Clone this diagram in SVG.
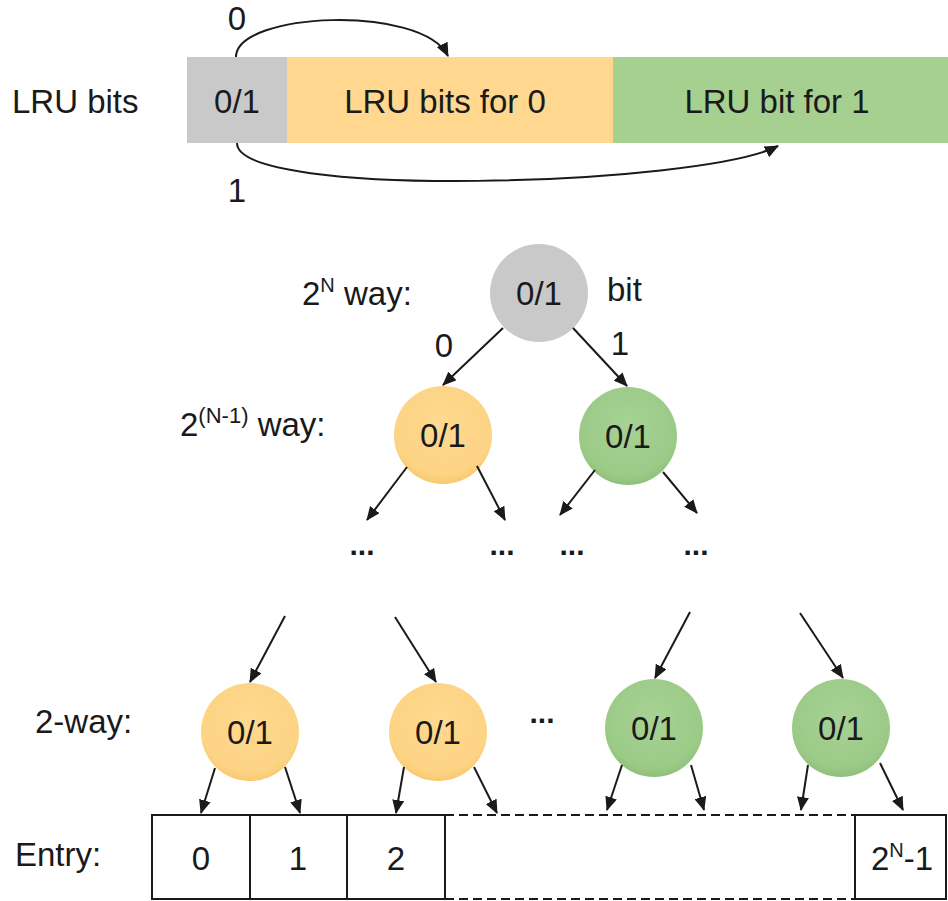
<svg xmlns="http://www.w3.org/2000/svg" width="948" height="901" viewBox="0 0 948 901">
<defs>
<style>
text{font-family:"Liberation Sans",Arial,sans-serif;fill:#1a1a1a;font-size:33px}
.c{text-anchor:middle}
.sup{font-size:20px}
.con{stroke:#1a1a1a;stroke-width:2;fill:none;marker-end:url(#ah)}
.gray{fill:#c9c9c9}
.or{fill:url(#gor)}
.gr{fill:url(#ggr)}
.box{fill:#fff;stroke:#1a1a1a;stroke-width:2}
.dots{font-size:30px;font-weight:bold;letter-spacing:0px}
</style>
<radialGradient id="gor" cx="0.5" cy="0.4" r="0.6"><stop offset="0" stop-color="#ffd98f"/><stop offset="0.85" stop-color="#fdd384"/><stop offset="1" stop-color="#f8c96e"/></radialGradient>
<radialGradient id="ggr" cx="0.5" cy="0.4" r="0.6"><stop offset="0" stop-color="#a7d294"/><stop offset="0.85" stop-color="#9bca87"/><stop offset="1" stop-color="#8fbf7b"/></radialGradient>
<marker id="ah" markerUnits="userSpaceOnUse" markerWidth="14" markerHeight="12" refX="13" refY="6" orient="auto"><path d="M0,0 L14,6 L0,12 z" fill="#1a1a1a"/></marker>
</defs>

<g id="lru-label"><text x="12" y="113">LRU bits</text></g>
<g id="bar-bit"><rect x="187" y="57" width="100" height="86" class="gray"/><text x="237" y="113" class="c">0/1</text></g>
<g id="bar-0"><rect x="287" y="57" width="326" height="86" fill="#ffd78e"/><text x="445" y="113" class="c">LRU bits for 0</text></g>
<g id="bar-1"><rect x="613" y="57" width="335" height="86" fill="#a6d08f"/><text x="777" y="113" class="c">LRU bit for 1</text></g>

<g id="lbl-top0"><text x="237" y="30" class="c">0</text></g>
<g id="lbl-top1"><text x="237" y="202" class="c">1</text></g>

<g id="lvl-labels">
<text x="302" y="305">2<tspan class="sup" dy="-13">N</tspan><tspan dy="13"> way:</tspan></text>
<text x="607" y="301">bit</text>
<text x="180" y="436">2<tspan style="font-size:22px" dy="-13">(N-1)</tspan><tspan dy="13"> way:</tspan></text>
<text x="35" y="733">2-way:</text>
<text x="15" y="866">Entry:</text>
</g>

<g id="root"><circle cx="539" cy="293" r="49" class="gray"/><text x="539" y="305" class="c">0/1</text></g>
<g id="l2-0"><circle cx="443" cy="435" r="49" class="or"/><text x="443" y="447" class="c">0/1</text></g>
<g id="l2-1"><circle cx="628" cy="436" r="49" class="gr"/><text x="628" y="448" class="c">0/1</text></g>

<g id="edge-labels">
<text x="444" y="357" class="c">0</text>
<text x="620" y="355" class="c">1</text>
</g>

<g id="dots">
<text x="362" y="555" class="c dots">...</text>
<text x="502" y="555" class="c dots">...</text>
<text x="572" y="555" class="c dots">...</text>
<text x="696" y="555" class="c dots">...</text>
<text x="542" y="723" class="c dots">...</text>
</g>

<g id="b0"><circle cx="250" cy="732" r="49" class="or"/><text x="250" y="744" class="c">0/1</text></g>
<g id="b1"><circle cx="438" cy="732" r="49" class="or"/><text x="438" y="744" class="c">0/1</text></g>
<g id="b2"><circle cx="654" cy="728" r="49" class="gr"/><text x="654" y="740" class="c">0/1</text></g>
<g id="b3"><circle cx="841" cy="728" r="49" class="gr"/><text x="841" y="740" class="c">0/1</text></g>

<g id="entries">
<rect x="152" y="815" width="98" height="84" class="box"/>
<rect x="250" y="815" width="97" height="84" class="box"/>
<rect x="347" y="815" width="98" height="84" class="box"/>
<rect x="855" y="815" width="91" height="84" class="box"/>
<line x1="445" y1="815" x2="855" y2="815" stroke="#1a1a1a" stroke-width="2" stroke-dasharray="9,5"/>
<line x1="445" y1="899" x2="855" y2="899" stroke="#1a1a1a" stroke-width="2" stroke-dasharray="9,5"/>
<text x="201" y="870" class="c">0</text>
<text x="298" y="870" class="c">1</text>
<text x="396" y="870" class="c">2</text>
<text x="902" y="870" class="c">2<tspan class="sup" dy="-13">N</tspan><tspan dy="13">-1</tspan></text>
</g>

<g id="connectors">
<path class="con" d="M236,57 C236,12 422,4 448,56"/>
<path class="con" d="M237,143 C237,200 700,186 778,146"/>
<path class="con" d="M503,328 L443,385"/>
<path class="con" d="M573,328 L627,386"/>
<path class="con" d="M407,467 L367,520"/>
<path class="con" d="M477,466 L505,520"/>
<path class="con" d="M595,470 L560,515"/>
<path class="con" d="M663,472 L697,513"/>
<path class="con" d="M285,616 L250,682"/>
<path class="con" d="M395,617 L436,682"/>
<path class="con" d="M690,612 L655,678"/>
<path class="con" d="M800,613 L843,678"/>
<path class="con" d="M215,768 L201,813"/>
<path class="con" d="M285,767 L300,813"/>
<path class="con" d="M404,767 L396,813"/>
<path class="con" d="M474,767 L497,813"/>
<path class="con" d="M622,765 L607,810"/>
<path class="con" d="M691,765 L704,810"/>
<path class="con" d="M808,765 L801,810"/>
<path class="con" d="M880,763 L903,810"/>
</g>
</svg>
